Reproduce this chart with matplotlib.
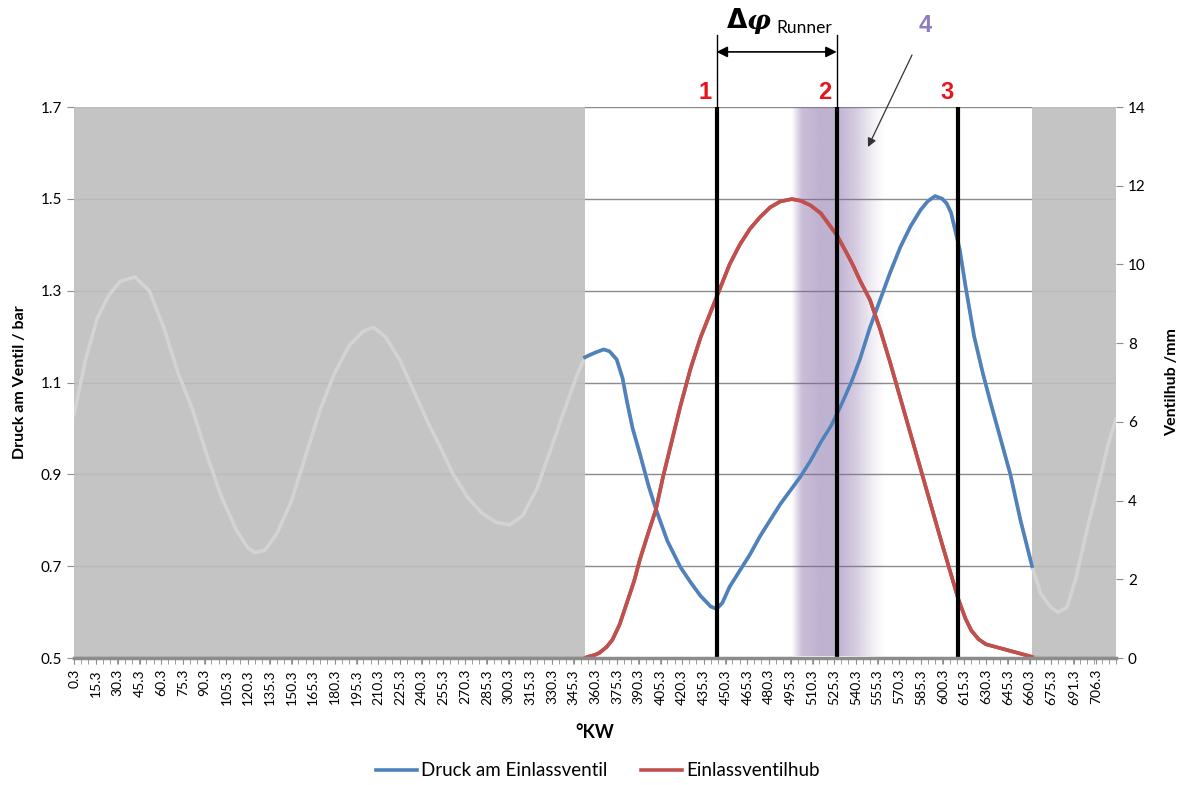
import numpy as np
import matplotlib
matplotlib.use("Agg")
import matplotlib.pyplot as plt
import matplotlib.transforms as mtransforms
from matplotlib.lines import Line2D

plt.rcParams["font.family"] = ["Lato", "DejaVu Sans"]

# crank angle (deg) and pressure at the inlet valve (bar)
druck_kw = [0, 8, 16, 24, 32, 42, 52, 62, 72, 82, 92, 102, 112, 120, 125, 132, 140,
            150, 160, 170, 180, 190, 200, 207, 215, 225, 235, 245, 253, 262, 272,
            282, 292, 301, 310, 320, 330, 340, 348, 353,
            360, 366, 370, 375, 379, 382, 386, 391, 397, 402, 410, 419, 426, 433,
            440, 444, 448, 453, 460, 467, 474, 481, 488, 495, 502, 509, 516, 523,
            530, 537, 543, 550, 557, 564, 571, 578, 585, 590, 595, 600, 603, 606,
            609, 612, 616, 622, 628, 633, 640, 647, 654, 662,
            668, 675, 680, 686, 692, 700, 708, 715, 720]
druck_bar = [1.03, 1.15, 1.24, 1.29, 1.32, 1.33, 1.30, 1.22, 1.12, 1.04, 0.94, 0.85,
             0.78, 0.74, 0.73, 0.735, 0.77, 0.84, 0.94, 1.04, 1.12, 1.18, 1.212,
             1.22, 1.20, 1.15, 1.08, 1.01, 0.96, 0.90, 0.85, 0.815, 0.795, 0.79,
             0.81, 0.87, 0.96, 1.05, 1.12, 1.155,
             1.165, 1.172, 1.168, 1.15, 1.11, 1.06, 1.00, 0.945, 0.875, 0.825, 0.755,
             0.698, 0.665, 0.635, 0.612, 0.607, 0.62, 0.655, 0.69, 0.725, 0.765,
             0.80, 0.835, 0.865, 0.895, 0.93, 0.97, 1.005, 1.05, 1.10, 1.15, 1.22,
             1.28, 1.34, 1.395, 1.44, 1.476, 1.495, 1.506, 1.50, 1.49, 1.47, 1.43,
             1.39, 1.31, 1.20, 1.12, 1.06, 0.98, 0.90, 0.80, 0.70,
             0.64, 0.61, 0.60, 0.61, 0.67, 0.78, 0.88, 0.97, 1.02]

# crank angle (deg) and inlet valve lift (mm)
hub_kw = [0, 353, 355, 360, 363, 368, 372, 377, 382, 387, 391, 397, 402, 407, 413,
          419, 426, 433, 440, 444, 453, 460, 467, 474, 481, 488, 496, 502, 509,
          516, 522, 527, 533, 538, 543, 550, 557, 564, 571, 578, 585, 592, 599,
          605, 611, 616, 620, 625, 630, 638, 646, 654, 662, 670, 720]
hub_mm = [0, 0, 0.03, 0.08, 0.13, 0.28, 0.46, 0.85, 1.40, 1.95, 2.5, 3.2, 3.76,
          4.6, 5.5, 6.4, 7.35, 8.15, 8.8, 9.17, 10.0, 10.5, 10.9, 11.2, 11.45,
          11.6, 11.66, 11.62, 11.5, 11.3, 11.0, 10.75, 10.35, 10.0, 9.6, 9.1,
          8.35, 7.5, 6.6, 5.7, 4.8, 3.9, 3.0, 2.25, 1.5, 1.0, 0.7, 0.48, 0.35,
          0.27, 0.19, 0.11, 0.03, 0, 0]

tick_kw = [0.3 + 15 * i for i in range(46)] + [691.3, 706.3]
tick_labels = [f"{t:.1f}" for t in tick_kw]

marker_kw = [444, 527, 611]
marker_labels = ["1", "2", "3"]
sichtbar = (353, 662)

blue = "#4F81BD"
red = "#C0504D"

fig = plt.figure(figsize=(11.84, 7.85), dpi=100)
ax = fig.add_axes([74 / 1184, 1 - 658 / 785, 1042 / 1184, 551 / 785])
ax2 = ax.twinx()
ax.set_zorder(ax2.get_zorder() + 1)
ax.patch.set_visible(False)

ax.set_xlim(0, 720)
ax.set_ylim(0.5, 1.7)
ax2.set_ylim(0, 14)

# grid
for y in np.arange(0.5, 1.71, 0.2):
    ax.axhline(y, color="#8a8a8a", lw=1.0, zorder=0)

# purple band around marker 2
prof_x = np.linspace(495, 560, 200)
prof_a = np.interp(prof_x, [496, 503, 515, 527, 540, 551, 560], [0, 0.42, 0.5, 0.5, 0.33, 0.12, 0])
img = np.zeros((1, len(prof_x), 4))
img[..., 0] = 128 / 255
img[..., 1] = 100 / 255
img[..., 2] = 162 / 255
img[..., 3] = prof_a
ax.imshow(img, extent=[495, 560, 0.505, 1.7], aspect="auto", zorder=1, interpolation="bilinear")

# lift curve (right axis values drawn on left axes scale)
hub_conv = 0.5 + np.array(hub_mm) / 14 * 1.2
ax.plot(hub_kw, hub_conv, color=red, lw=2.6, zorder=2)

# grey masked zones
ax.axvspan(0, sichtbar[0], color="#bfbfbf", alpha=0.92, lw=0, zorder=3)
ax.axvspan(sichtbar[1], 720, color="#bfbfbf", alpha=0.92, lw=0, zorder=3)

ax.plot(druck_kw, druck_bar, color="#d3d3d3", lw=2.6, zorder=4)
kw = np.array(druck_kw)
sel = (kw >= sichtbar[0]) & (kw <= sichtbar[1])
ax.plot(kw[sel], np.array(druck_bar)[sel], color=blue, lw=2.6, zorder=5)
hk = np.array(hub_kw)
hs = (hk >= sichtbar[0]) & (hk <= sichtbar[1])
ax.plot(hk[hs], hub_conv[hs], color=red, lw=2.6, zorder=5)

# vertical markers
trans = mtransforms.blended_transform_factory(ax.transData, ax.transAxes)
for xk, lab in zip(marker_kw, marker_labels):
    ax.axvline(xk, color="black", lw=3, zorder=6)
    ax.text(xk - 8, 1.005, lab, transform=trans, color="#e8141b", fontsize=17,
            fontweight="bold", ha="center", va="bottom", family=["Liberation Sans"])
for xk in marker_kw[:2]:
    ax.plot([xk, xk], [1.0, 1.13], transform=trans, color="black", lw=1, clip_on=False)
ax.annotate("", xy=(marker_kw[0], 1.1), xytext=(marker_kw[1], 1.1),
            xycoords=trans, textcoords=trans,
            arrowprops=dict(arrowstyle="<|-|>", color="black", lw=1.2,
                            shrinkA=0, shrinkB=0, mutation_scale=16))
fig.text(737 / 1184, 1 - 21 / 785, "Δ", fontsize=19, fontweight="bold",
         ha="center", va="center", family=["DejaVu Sans"])
fig.text(759 / 1184, 1 - 21 / 785, "φ", fontsize=19, fontweight="bold", style="italic",
         ha="center", va="center", family=["DejaVu Serif"])
fig.text(776 / 1184, 1 - 28 / 785, "Runner", fontsize=12.5, ha="left", va="center")
fig.text(925 / 1184, 1 - 25 / 785, "4", fontsize=17, fontweight="bold", color="#8e7cc3",
         ha="center", va="center", family=["Liberation Sans"])
ax.annotate("", xy=((868 - 74) / 1042 * 720, (658 - 147) / 551),
            xytext=((912 - 74) / 1042 * 720, (658 - 55) / 551),
            xycoords=trans, textcoords=trans,
            arrowprops=dict(arrowstyle="-|>", color="#333333", lw=0.9,
                            shrinkA=0, shrinkB=0, mutation_scale=13))

# axes styling
for a in (ax, ax2):
    for s in a.spines.values():
        s.set_visible(False)
ax.spines["bottom"].set_visible(True)
ax.spines["bottom"].set_color("#8c8c8c")
ax.spines["bottom"].set_linewidth(2.5)
ax.spines["bottom"].set_zorder(7)

ax.set_xticks(tick_kw)
ax.set_xticklabels(tick_labels, rotation=90, fontsize=10)
ax.set_xticks(np.arange(0, 721, 5), minor=True)
ax.tick_params(axis="x", which="both", length=4, color="#8c8c8c", pad=4)
ax.set_yticks(np.arange(0.5, 1.71, 0.2))
ax.set_yticklabels([f"{v:.1f}" for v in np.arange(0.5, 1.71, 0.2)], fontsize=11)
ax.tick_params(axis="y", length=5, color="#8c8c8c")
ax2.set_yticks(np.arange(0, 15, 2))
ax2.tick_params(axis="y", length=5, color="#8c8c8c", labelsize=11)

ax.set_ylabel("Druck am Ventil / bar", fontsize=11.5, fontweight="bold", labelpad=10)
ax2.set_ylabel("Ventilhub /mm", fontsize=11.5, fontweight="bold", labelpad=14)
ax.set_xlabel("°KW", fontsize=13, fontweight="bold", labelpad=14)

handles = [Line2D([], [], color=blue, lw=2.6), Line2D([], [], color=red, lw=2.6)]
fig.legend(handles, ["Druck am Einlassventil", "Einlassventilhub"], loc="center",
           bbox_to_anchor=(0.505, 1 - 771 / 785), ncol=2, frameon=False,
           fontsize=13.5, handlelength=2.2, columnspacing=1.8, handletextpad=0.2)

fig.savefig("out.png", dpi=100)
